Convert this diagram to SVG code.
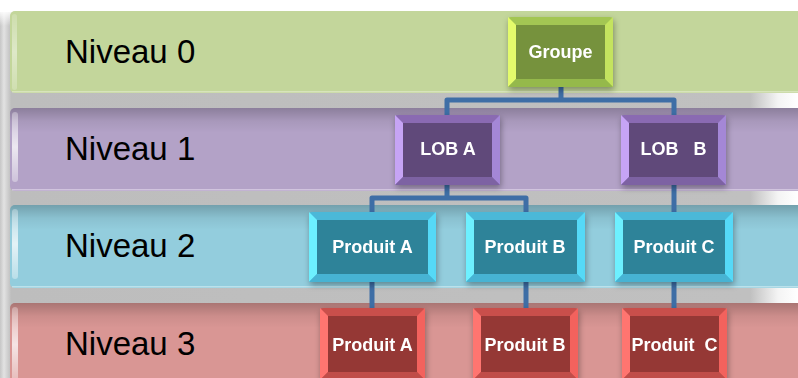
<svg xmlns="http://www.w3.org/2000/svg" width="798" height="378" viewBox="0 0 798 378">
  <defs>
    <style>
      .lvl { font-family: "Liberation Sans", Arial, sans-serif; font-size: 33px; fill: #000; }
      .lbl { font-family: "Liberation Sans", Arial, sans-serif; font-size: 18px; font-weight: bold; fill: #fff; text-anchor: middle; white-space: pre; }
      .wire { fill: none; stroke: #3e6ea6; stroke-width: 5; stroke-linejoin: round; }
      .node { filter: url(#shadow); }
      /* bevel palettes */
      .g .t { fill: #a3c653; } .g .l { fill: #e4fb6c; } .g .r { fill: #c4e35e; } .g .b { fill: #95b94c; } .g .c { fill: #76923c; }
      .p .t { fill: #8a6bb2; } .p .l { fill: #c6a4f5; } .p .r { fill: #a487d6; } .p .b { fill: #7d62a3; } .p .c { fill: #60497a; }
      .k .t { fill: #4bb8d8; } .k .l { fill: #6df0ff; } .k .r { fill: #55d9f7; } .k .b { fill: #47b3d3; } .k .c { fill: #2e8399; }
      .d .t { fill: #c9504c; } .d .l { fill: #ff7470; } .d .r { fill: #f3625d; } .d .b { fill: #c04d49; } .d .c { fill: #953735; }
    </style>
    <filter id="shadow" x="-20%" y="-20%" width="150%" height="160%">
      <feDropShadow dx="1" dy="3" stdDeviation="3" flood-color="#000" flood-opacity="0.35"/>
    </filter>
    <linearGradient id="bgH" x1="0" y1="0" x2="798" y2="0" gradientUnits="userSpaceOnUse">
      <stop offset="0" stop-color="#c6c6c6"/>
      <stop offset="0.005" stop-color="#e2e2e2"/>
      <stop offset="0.014" stop-color="#bdbdbd"/>
      <stop offset="0.94" stop-color="#c0c0c0"/>
      <stop offset="0.975" stop-color="#f4f4f4"/>
      <stop offset="1" stop-color="#ffffff"/>
    </linearGradient>
    <linearGradient id="topFade" x1="0" y1="0" x2="0" y2="1">
      <stop offset="0" stop-color="#fff" stop-opacity="1"/>
      <stop offset="1" stop-color="#fff" stop-opacity="0"/>
    </linearGradient>
    <linearGradient id="bandShade" x1="0" y1="0" x2="0" y2="1">
      <stop offset="0" stop-color="#000" stop-opacity="0.22"/>
      <stop offset="0.16" stop-color="#000" stop-opacity="0.06"/>
      <stop offset="0.3" stop-color="#000" stop-opacity="0"/>
    </linearGradient>
    <linearGradient id="streak" x1="0" y1="0" x2="0" y2="1">
      <stop offset="0" stop-color="#fff" stop-opacity="0.3"/>
      <stop offset="0.5" stop-color="#fff" stop-opacity="0.75"/>
      <stop offset="1" stop-color="#fff" stop-opacity="0.35"/>
    </linearGradient>
  </defs>

  <!-- backdrop -->
  <rect x="0" y="0" width="798" height="378" fill="#fff"/>
  <rect x="0" y="12" width="798" height="366" fill="url(#bgH)"/>
  <rect x="0" y="10" width="798" height="16" fill="url(#topFade)"/>

  <!-- level bands -->
  <g id="band0">
    <rect x="10" y="11" width="800" height="82" rx="5" fill="#c3d69b"/>
    <rect x="12" y="14" width="5" height="76" rx="2.5" fill="url(#streak)" opacity="0.6"/>
    <rect x="12" y="91" width="790" height="1.5" fill="#dfe9c9" opacity="0.7"/>
    <text class="lvl" x="65" y="63">Niveau 0</text>
  </g>
  <g id="band1">
    <rect x="10" y="108" width="800" height="83" rx="5" fill="#b3a2c7"/>
    <rect x="10" y="108" width="800" height="83" rx="5" fill="url(#bandShade)"/>
    <rect x="12" y="112" width="6" height="70" rx="3" fill="url(#streak)"/>
    <rect x="12" y="189" width="790" height="1.5" fill="#d8cde4" opacity="0.8"/>
    <text class="lvl" x="65" y="160">Niveau 1</text>
  </g>
  <g id="band2">
    <rect x="10" y="205" width="800" height="83" rx="5" fill="#93cddd"/>
    <rect x="10" y="205" width="800" height="83" rx="5" fill="url(#bandShade)"/>
    <rect x="12" y="209" width="6" height="70" rx="3" fill="url(#streak)"/>
    <rect x="12" y="286" width="790" height="1.5" fill="#c6e6ef" opacity="0.8"/>
    <text class="lvl" x="65" y="257">Niveau 2</text>
  </g>
  <g id="band3">
    <rect x="10" y="303" width="800" height="90" rx="5" fill="#d99694"/>
    <rect x="10" y="303" width="800" height="83" rx="5" fill="url(#bandShade)"/>
    <rect x="12" y="307" width="6" height="75" rx="3" fill="url(#streak)"/>
    <text class="lvl" x="65" y="355">Niveau 3</text>
  </g>

  <!-- connectors -->
  <g id="connectors">
    <path class="wire" d="M561,87 V100 M447,115 V100 H674 V115"/>
    <path class="wire" d="M447,185 V198 M372,212 V198 H526 V212"/>
    <path class="wire" d="M674,185 V212"/>
    <path class="wire" d="M372,282 V308"/>
    <path class="wire" d="M526,282 V308"/>
    <path class="wire" d="M674,282 V308"/>
  </g>

  <!-- level 0 -->
  <g id="groupe" class="node g">
    <rect class="t" x="508" y="17" width="105" height="70" rx="3"/>
    <path class="l" d="M508,17 L516,25 L516,79 L508,87 Z"/>
    <path class="r" d="M613,17 L613,87 L605,79 L605,25 Z"/>
    <path class="b" d="M508,87 L516,79 L605,79 L613,87 Z"/>
    <rect class="c" x="516" y="25" width="89" height="54"/>
    <text class="lbl" x="560.5" y="58">Groupe</text>
  </g>

  <!-- level 1 -->
  <g id="lob-a" class="node p">
    <rect class="t" x="395" y="115" width="105" height="70" rx="3"/>
    <path class="l" d="M395,115 L403,123 L403,177 L395,185 Z"/>
    <path class="r" d="M500,115 L500,185 L492,177 L492,123 Z"/>
    <path class="b" d="M395,185 L403,177 L492,177 L500,185 Z"/>
    <rect class="c" x="403" y="123" width="89" height="54"/>
    <text class="lbl" x="448" y="155">LOB A</text>
  </g>
  <g id="lob-b" class="node p">
    <rect class="t" x="621" y="115" width="105" height="70" rx="3"/>
    <path class="l" d="M621,115 L629,123 L629,177 L621,185 Z"/>
    <path class="r" d="M726,115 L726,185 L718,177 L718,123 Z"/>
    <path class="b" d="M621,185 L629,177 L718,177 L726,185 Z"/>
    <rect class="c" x="629" y="123" width="89" height="54"/>
    <text class="lbl" x="673.5" y="155">LOB   B</text>
  </g>

  <!-- level 2 -->
  <g id="n2-produit-a" class="node k">
    <rect class="t" x="309" y="212" width="127" height="70" rx="3"/>
    <path class="l" d="M309,212 L317,220 L317,274 L309,282 Z"/>
    <path class="r" d="M436,212 L436,282 L428,274 L428,220 Z"/>
    <path class="b" d="M309,282 L317,274 L428,274 L436,282 Z"/>
    <rect class="c" x="317" y="220" width="111" height="54"/>
    <text class="lbl" x="372.5" y="253">Produit A</text>
  </g>
  <g id="n2-produit-b" class="node k">
    <rect class="t" x="466" y="212" width="119" height="70" rx="3"/>
    <path class="l" d="M466,212 L474,220 L474,274 L466,282 Z"/>
    <path class="r" d="M585,212 L585,282 L577,274 L577,220 Z"/>
    <path class="b" d="M466,282 L474,274 L577,274 L585,282 Z"/>
    <rect class="c" x="474" y="220" width="103" height="54"/>
    <text class="lbl" x="525" y="253">Produit B</text>
  </g>
  <g id="n2-produit-c" class="node k">
    <rect class="t" x="615" y="212" width="118" height="70" rx="3"/>
    <path class="l" d="M615,212 L623,220 L623,274 L615,282 Z"/>
    <path class="r" d="M733,212 L733,282 L725,274 L725,220 Z"/>
    <path class="b" d="M615,282 L623,274 L725,274 L733,282 Z"/>
    <rect class="c" x="623" y="220" width="102" height="54"/>
    <text class="lbl" x="674" y="253">Produit C</text>
  </g>

  <!-- level 3 -->
  <g id="n3-produit-a" class="node d">
    <rect class="t" x="320" y="308" width="105" height="72" rx="3"/>
    <path class="l" d="M320,308 L328,316 L328,372 L320,380 Z"/>
    <path class="r" d="M425,308 L425,380 L417,372 L417,316 Z"/>
    <path class="b" d="M320,380 L328,372 L417,372 L425,380 Z"/>
    <rect class="c" x="328" y="316" width="89" height="56"/>
    <text class="lbl" x="372.5" y="351">Produit A</text>
  </g>
  <g id="n3-produit-b" class="node d">
    <rect class="t" x="473" y="308" width="105" height="72" rx="3"/>
    <path class="l" d="M473,308 L481,316 L481,372 L473,380 Z"/>
    <path class="r" d="M578,308 L578,380 L570,372 L570,316 Z"/>
    <path class="b" d="M473,380 L481,372 L570,372 L578,380 Z"/>
    <rect class="c" x="481" y="316" width="89" height="56"/>
    <text class="lbl" x="525" y="351">Produit B</text>
  </g>
  <g id="n3-produit-c" class="node d">
    <rect class="t" x="622" y="308" width="105" height="72" rx="3"/>
    <path class="l" d="M622,308 L630,316 L630,372 L622,380 Z"/>
    <path class="r" d="M727,308 L727,380 L719,372 L719,316 Z"/>
    <path class="b" d="M622,380 L630,372 L719,372 L727,380 Z"/>
    <rect class="c" x="630" y="316" width="89" height="56"/>
    <text class="lbl" x="674.5" y="351">Produit  C</text>
  </g>
</svg>
